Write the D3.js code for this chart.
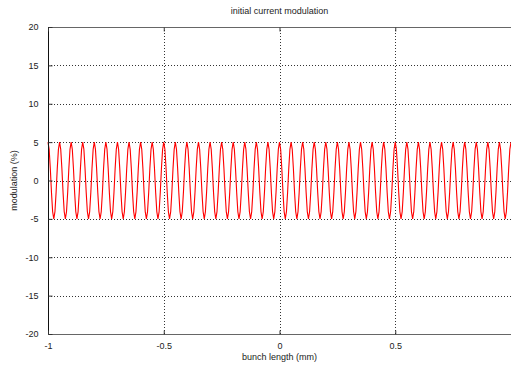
<!DOCTYPE html>
<html>
<head>
<meta charset="utf-8">
<script src="https://cdn.jsdelivr.net/npm/d3@7"></script>
<style>
  html, body { margin: 0; padding: 0; background: #fff; }
  svg { display: block; }
  text { font-family: "Liberation Sans", Arial, sans-serif; font-size: 9px; fill: #222; }
</style>
</head>
<body>
<svg id="chart" width="511" height="368"></svg>
<script>
// Axis ticks
const xTicks = [-1, -0.5, 0, 0.5];
const xTickLabels = ["-1", "-0.5", "0", "0.5"];
const yTicks = [-20, -15, -10, -5, 0, 5, 10, 15, 20];
const yTickLabels = ["-20", "-15", "-10", "-5", "0", "5", "10", "15", "20"];

// Modulation samples (%), taken every 0.005 mm from -1 mm to 1 mm
const xStart = -1;
const xStep = 0.005;
const modulation = [
  5, 4.05, 1.55, -1.55, -4.05, -5, -4.05, -1.55, 1.55, 4.05,
  5, 4.05, 1.55, -1.55, -4.05, -5, -4.05, -1.55, 1.55, 4.05,
  5, 4.05, 1.55, -1.55, -4.05, -5, -4.05, -1.55, 1.55, 4.05,
  5, 4.05, 1.55, -1.55, -4.05, -5, -4.05, -1.55, 1.55, 4.05,
  5, 4.05, 1.55, -1.55, -4.05, -5, -4.05, -1.55, 1.55, 4.05,
  5, 4.05, 1.55, -1.55, -4.05, -5, -4.05, -1.55, 1.55, 4.05,
  5, 4.05, 1.55, -1.55, -4.05, -5, -4.05, -1.55, 1.55, 4.05,
  5, 4.05, 1.55, -1.55, -4.05, -5, -4.05, -1.55, 1.55, 4.05,
  5, 4.05, 1.55, -1.55, -4.05, -5, -4.05, -1.55, 1.55, 4.05,
  5, 4.05, 1.55, -1.55, -4.05, -5, -4.05, -1.55, 1.55, 4.05,
  5, 4.05, 1.55, -1.55, -4.05, -5, -4.05, -1.55, 1.55, 4.05,
  5, 4.05, 1.55, -1.55, -4.05, -5, -4.05, -1.55, 1.55, 4.05,
  5, 4.05, 1.55, -1.55, -4.05, -5, -4.05, -1.55, 1.55, 4.05,
  5, 4.05, 1.55, -1.55, -4.05, -5, -4.05, -1.55, 1.55, 4.05,
  5, 4.05, 1.55, -1.55, -4.05, -5, -4.05, -1.55, 1.55, 4.05,
  5, 4.05, 1.55, -1.55, -4.05, -5, -4.05, -1.55, 1.55, 4.05,
  5, 4.05, 1.55, -1.55, -4.05, -5, -4.05, -1.55, 1.55, 4.05,
  5, 4.05, 1.55, -1.55, -4.05, -5, -4.05, -1.55, 1.55, 4.05,
  5, 4.05, 1.55, -1.55, -4.05, -5, -4.05, -1.55, 1.55, 4.05,
  5, 4.05, 1.55, -1.55, -4.05, -5, -4.05, -1.55, 1.55, 4.05,
  5, 4.05, 1.55, -1.55, -4.05, -5, -4.05, -1.55, 1.55, 4.05,
  5, 4.05, 1.55, -1.55, -4.05, -5, -4.05, -1.55, 1.55, 4.05,
  5, 4.05, 1.55, -1.55, -4.05, -5, -4.05, -1.55, 1.55, 4.05,
  5, 4.05, 1.55, -1.55, -4.05, -5, -4.05, -1.55, 1.55, 4.05,
  5, 4.05, 1.55, -1.55, -4.05, -5, -4.05, -1.55, 1.55, 4.05,
  5, 4.05, 1.55, -1.55, -4.05, -5, -4.05, -1.55, 1.55, 4.05,
  5, 4.05, 1.55, -1.55, -4.05, -5, -4.05, -1.55, 1.55, 4.05,
  5, 4.05, 1.55, -1.55, -4.05, -5, -4.05, -1.55, 1.55, 4.05,
  5, 4.05, 1.55, -1.55, -4.05, -5, -4.05, -1.55, 1.55, 4.05,
  5, 4.05, 1.55, -1.55, -4.05, -5, -4.05, -1.55, 1.55, 4.05,
  5, 4.05, 1.55, -1.55, -4.05, -5, -4.05, -1.55, 1.55, 4.05,
  5, 4.05, 1.55, -1.55, -4.05, -5, -4.05, -1.55, 1.55, 4.05,
  5, 4.05, 1.55, -1.55, -4.05, -5, -4.05, -1.55, 1.55, 4.05,
  5, 4.05, 1.55, -1.55, -4.05, -5, -4.05, -1.55, 1.55, 4.05,
  5, 4.05, 1.55, -1.55, -4.05, -5, -4.05, -1.55, 1.55, 4.05,
  5, 4.05, 1.55, -1.55, -4.05, -5, -4.05, -1.55, 1.55, 4.05,
  5, 4.05, 1.55, -1.55, -4.05, -5, -4.05, -1.55, 1.55, 4.05,
  5, 4.05, 1.55, -1.55, -4.05, -5, -4.05, -1.55, 1.55, 4.05,
  5, 4.05, 1.55, -1.55, -4.05, -5, -4.05, -1.55, 1.55, 4.05,
  5, 4.05, 1.55, -1.55, -4.05, -5, -4.05, -1.55, 1.55, 4.05,
  5
];

const title = "initial current modulation";
const xLabel = "bunch length (mm)";
const yLabel = "modulation (%)";

const margin = { left: 48, right: 0, top: 27, bottom: 34 };
const width = 511, height = 368;

const svg = d3.select("#chart");

const x = d3.scaleLinear().domain([-1, 1]).range([margin.left, width - margin.right]);
const y = d3.scaleLinear().domain([-20, 20]).range([height - margin.bottom, margin.top]);

const plotW = x.range()[1] - x.range()[0];
const plotH = y.range()[0] - y.range()[1];

// Dotted grid
const grid = svg.append("g").attr("class", "grid");
grid.selectAll("line.gx")
  .data(xTicks.filter(d => d !== -1))
  .join("line")
  .attr("x1", d => Math.round(x(d)) + 0.5).attr("x2", d => Math.round(x(d)) + 0.5)
  .attr("y1", y(20)).attr("y2", y(-20))
  .attr("stroke", "#333").attr("stroke-width", 1).attr("stroke-dasharray", "1,2");
grid.selectAll("line.gy")
  .data(yTicks.filter(d => d !== -20 && d !== 20))
  .join("line")
  .attr("x1", x(-1)).attr("x2", x(1))
  .attr("y1", d => Math.round(y(d)) + 0.5).attr("y2", d => Math.round(y(d)) + 0.5)
  .attr("stroke", "#333").attr("stroke-width", 1).attr("stroke-dasharray", "1,2");

// Modulation curve
const line = d3.line()
  .x((d, i) => x(xStart + i * xStep))
  .y(d => y(d));
svg.append("path")
  .datum(modulation)
  .attr("d", line)
  .attr("fill", "none")
  .attr("stroke", "#ff0000")
  .attr("stroke-width", 1.1);

// Frame
svg.append("line")
  .attr("x1", x(-1)).attr("x2", width)
  .attr("y1", Math.round(y(20)) + 0.5).attr("y2", Math.round(y(20)) + 0.5)
  .attr("stroke", "#666");
svg.append("line")
  .attr("x1", x(-1)).attr("x2", width)
  .attr("y1", Math.round(y(-20)) + 0.5).attr("y2", Math.round(y(-20)) + 0.5)
  .attr("stroke", "#666");
svg.append("line")
  .attr("x1", Math.round(x(-1)) + 0.5).attr("x2", Math.round(x(-1)) + 0.5)
  .attr("y1", y(20)).attr("y2", y(-20))
  .attr("stroke", "#111");

// Axes with inward ticks
const xAxisBottom = d3.axisBottom(x).tickValues(xTicks)
  .tickFormat((d, i) => xTickLabels[i]).tickSize(-4).tickPadding(8);
const gxb = svg.append("g")
  .attr("transform", `translate(0,${Math.round(y(-20)) + 0.5})`)
  .call(xAxisBottom);
gxb.select(".domain").remove();
gxb.selectAll(".tick line").attr("stroke", "#333");
gxb.selectAll("text").attr("font-size", 9).attr("font-family", "Liberation Sans, Arial, sans-serif").attr("fill", "#222");

const xAxisTop = d3.axisTop(x).tickValues(xTicks).tickSize(-4).tickFormat("");
const gxt = svg.append("g")
  .attr("transform", `translate(0,${Math.round(y(20)) + 0.5})`)
  .call(xAxisTop);
gxt.select(".domain").remove();
gxt.selectAll(".tick line").attr("stroke", "#333");

const yAxis = d3.axisLeft(y).tickValues(yTicks)
  .tickFormat((d, i) => yTickLabels[i]).tickSize(-4).tickPadding(10);
const gy = svg.append("g")
  .attr("transform", `translate(${Math.round(x(-1)) + 0.5},0)`)
  .call(yAxis);
gy.select(".domain").remove();
gy.selectAll(".tick line").attr("stroke", "#333");
gy.selectAll("text").attr("font-size", 9).attr("font-family", "Liberation Sans, Arial, sans-serif").attr("fill", "#222");

// Titles
svg.append("text")
  .attr("x", x(0)).attr("y", 14)
  .attr("text-anchor", "middle")
  .text(title);
svg.append("text")
  .attr("x", x(0)).attr("y", 360)
  .attr("text-anchor", "middle")
  .text(xLabel);
svg.append("text")
  .attr("transform", `translate(17,${y(0)}) rotate(-90)`)
  .attr("text-anchor", "middle")
  .text(yLabel);
</script>
</body>
</html>
